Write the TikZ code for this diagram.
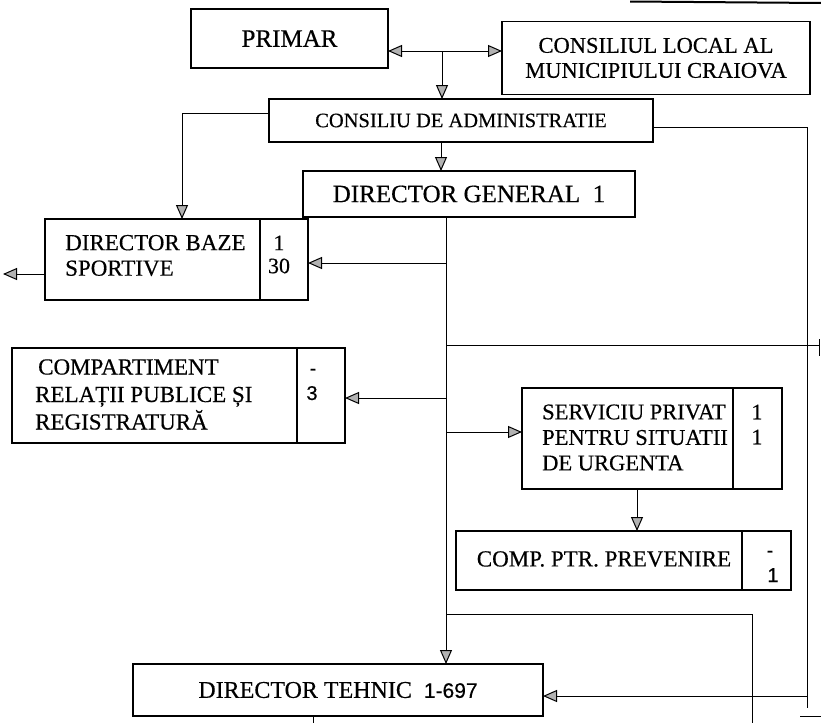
\documentclass[tikz,border=0pt]{standalone}
\usepackage{fontspec}
\setmainfont{Liberation Serif}[FakeBold=0.4]
\newfontfamily\sansnum{Liberation Sans}[FakeBold=0.3]
\usetikzlibrary{arrows.meta}
\begin{document}
\begin{tikzpicture}[x=1pt,y=-1pt,
  box/.style={draw, line width=1.3pt, inner sep=0pt, outer sep=0pt},
  divline/.style={line width=1.3pt},
  conn/.style={line width=1pt},
  arr/.style={conn, -{Triangle[length=14pt,width=12pt,fill=gray!60]}},
  txt/.style={inner sep=0pt, font=\fontsize{23}{25.5}\selectfont},
  num/.style={inner sep=0pt, font=\fontsize{22}{23}\selectfont, align=center},
  snum/.style={inner sep=0pt, font=\sansnum\fontsize{20}{25}\selectfont, anchor=base},
]
\fill[white] (0,0) rectangle (821,723);
\useasboundingbox (0,0) rectangle (821,723);

% boxes
\node[box, minimum width=197pt, minimum height=59pt, font=\fontsize{25}{28}\selectfont] (primar) at (289.5,38.5) {PRIMAR};
\node[box, minimum width=308pt, minimum height=73pt, align=center, font=\fontsize{22.5}{25}\selectfont] (cons) at (656,58) {CONSILIUL LOCAL AL\\MUNICIPIULUI CRAIOVA};
\node[box, minimum width=384pt, minimum height=43pt, font=\fontsize{20.5}{24}\selectfont] (cda) at (461,120.5) {CONSILIU DE ADMINISTRATIE};
\node[box, minimum width=332pt, minimum height=46pt, font=\fontsize{25}{28}\selectfont] (dg) at (469,194) {DIRECTOR GENERAL\ \ 1};

\node[box, minimum width=263pt, minimum height=81pt] (dbs) at (176.5,259.5) {};
\coordinate (dbsd) at (260,0);
\draw[divline] (dbsd |- dbs.north) -- (dbsd |- dbs.south);
\node[txt, anchor=west, align=left] (dbst) at (65,255.5) {DIRECTOR BAZE\\SPORTIVE};
\node[num] (dbsn) at (279,254.5) {1\\30};

\node[box, minimum width=333pt, minimum height=95pt] (crpr) at (178.5,395.5) {};
\coordinate (crprd) at (297,0);
\draw[divline] (crprd |- crpr.north) -- (crprd |- crpr.south);
\node[txt, anchor=west, align=left, font=\fontsize{23}{27.5}\selectfont] (crprt) at (35,394.5) {\hspace*{3pt}COMPARTIMENT\\RELAȚII PUBLICE ȘI\\REGISTRATURĂ};
\node[snum] (crprn1) at (313,375) {-};
\node[snum] (crprn2) at (312,400) {3};

\node[box, minimum width=260pt, minimum height=101pt] (serv) at (652,438.5) {};
\coordinate (servd) at (733,0);
\draw[divline] (servd |- serv.north) -- (servd |- serv.south);
\node[txt, anchor=west, align=left, font=\fontsize{22.5}{25.5}\selectfont] (servt) at (542,437.5) {SERVICIU PRIVAT\\PENTRU SITUATII\\DE URGENTA};
\node[num, font=\fontsize{22}{25}\selectfont] (servn) at (757,424.5) {1\\1};

\node[box, minimum width=335pt, minimum height=59pt] (comp) at (623.5,560.5) {};
\coordinate (compd) at (742,0);
\draw[divline] (compd |- comp.north) -- (compd |- comp.south);
\node[txt] (compt) at (604,559) {COMP. PTR. PREVENIRE};
\node[snum] (compn1) at (770,557) {-};
\node[snum] (compn2) at (773,582) {1};

\node[box, minimum width=410pt, minimum height=52pt, font=\fontsize{24}{27}\selectfont] (dt) at (338,690) {DIRECTOR TEHNIC\ \ {\sansnum\fontsize{21}{24}\selectfont 1-697}};

% connectors top
\coordinate (j) at (442,51);
\draw[arr] (j) -- (j -| primar.east);
\draw[arr] (j) -- (j -| cons.west);
\draw[arr] (j) -- (j |- cda.north);

\coordinate (c1) at (441,0);
\draw[arr] (c1 |- cda.south) -- (c1 |- dg.north);

\coordinate (l1) at (182,113);
\draw[arr] (l1 -| cda.west) -- (l1) -- (l1 |- dbs.north);

\coordinate (r1) at (807,127);
\coordinate (r2) at (807,708);
\draw[conn] (r1 -| cda.east) -- (r1) -- (r2);
\coordinate (r3) at (807,696);
\draw[arr] (r3) -- (r3 -| dt.east);

% trunk
\coordinate (tx) at (446,0);
\draw[arr] (tx |- dg.south) -- (tx |- dt.north);
\coordinate (b1) at (446,263);
\draw[arr] (b1) -- (b1 -| dbs.east);
\coordinate (b2) at (446,398);
\draw[arr] (b2) -- (b2 -| crpr.east);
\coordinate (b3) at (446,432);
\draw[arr] (b3) -- (b3 -| serv.west);
\coordinate (b4) at (446,345);
\coordinate (b4e) at (819,345);
\draw[conn] (b4) -- (b4e);
\draw[conn] (b4e) ++(0,-6) -- ++(0,17);
\coordinate (b5) at (446,614);
\coordinate (b5e) at (752,614);
\coordinate (b5b) at (752,723);
\draw[conn] (b5) -- (b5e) -- (b5b);

\coordinate (sc) at (637,0);
\draw[arr] (sc |- serv.south) -- (sc |- comp.north);

\coordinate (dl) at (3,274);
\draw[arr] (dl -| dbs.west) -- (dl);

\coordinate (db) at (313,723);
\draw[conn] (db |- dt.south) -- (db);

\draw[conn] (800,716) -- (821,716);
\draw[line width=2pt] (630,1.5) -- (821,3);
\end{tikzpicture}
\end{document}
